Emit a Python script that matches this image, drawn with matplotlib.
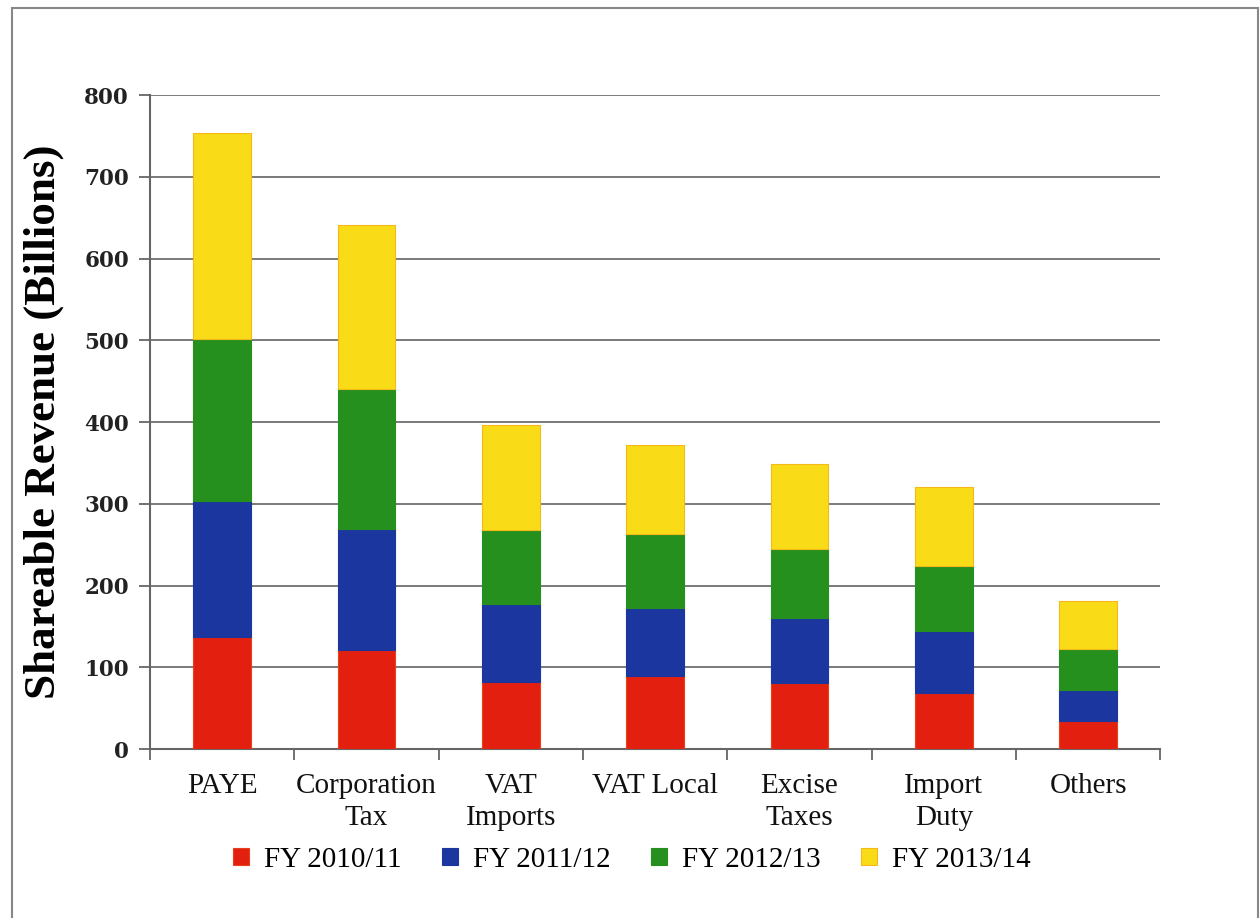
import numpy as np
import matplotlib.pyplot as plt
from matplotlib.patches import Rectangle

# values (billions)
categories = ['PAYE', 'Corporation\nTax', 'VAT\nImports', 'VAT Local',
              'Excise\nTaxes', 'Import\nDuty', 'Others']
fy_2010 = [137, 121, 82, 90, 81, 68, 34]
fy_2011 = [166, 148, 95, 82, 79, 76, 38]
fy_2012 = [199, 171, 91, 91, 85, 80, 50]
fy_2013 = [252, 201, 129, 109, 104, 96, 59]
series_names = ['FY 2010/11', 'FY 2011/12', 'FY 2012/13', 'FY 2013/14']
yticks = [0, 100, 200, 300, 400, 500, 600, 700, 800]

colors = ['#E3200F', '#1C36A0', '#25901E', '#F9DC17']
edges = ['#E8401A', '#1C36A0', '#25901E', '#F5B81A']

fig = plt.figure(figsize=(12.6, 9.18), dpi=100)
ax = fig.add_axes([0.119, 0.184, 0.802, 0.7125])

x = np.arange(len(categories))
bottom = np.zeros(len(categories))
for vals, name, c, ec in zip([fy_2010, fy_2011, fy_2012, fy_2013],
                             series_names, colors, edges):
    ax.bar(x, vals, width=0.4, bottom=bottom, color=c, edgecolor=ec,
           linewidth=0.8, label=name, zorder=3)
    bottom += np.array(vals)

ax.set_xlim(-0.5, 6.5)
ax.set_ylim(0, 800)
ax.set_yticks(yticks)
ax.set_yticklabels([str(t) for t in yticks], family='DejaVu Serif',
                   fontsize=15.5, fontweight='bold', color='#222222')
ax.yaxis.grid(True, color='#7a7a7a', linewidth=1.4, zorder=0)
ax.tick_params(axis='y', length=8, width=1.3, color='#666666', pad=7)

ax.set_xticks(x)
ax.set_xticklabels(categories, family='Liberation Serif', fontsize=21,
                   linespacing=1.3, color='#111111')
ax.set_xticks(np.arange(-0.5, 7, 1), minor=True)
ax.tick_params(axis='x', which='major', length=0, pad=17)
ax.tick_params(axis='x', which='minor', length=8, width=1.3, color='#666666')

for s in ['top', 'right']:
    ax.spines[s].set_visible(False)
for s in ['left', 'bottom']:
    ax.spines[s].set_color('#666666')
    ax.spines[s].set_linewidth(1.5)

ax.set_ylabel('Shareable Revenue (Billions)', family='Liberation Serif',
              fontsize=32.5, fontweight='bold')
ax.yaxis.set_label_coords(-0.085, 0.5)

fig.legend(loc='center', bbox_to_anchor=(632 / 1260, 1 - 860 / 918), ncol=4,
           frameon=False, handlelength=0.55, handleheight=0.55,
           handletextpad=0.5, columnspacing=1.4,
           prop={'family': 'Liberation Serif', 'size': 21})

fig.patches.append(Rectangle((12 / 1260, -0.02), 1246 / 1260, 1.02 - 8 / 918,
                             transform=fig.transFigure, fill=False,
                             edgecolor='#888888', linewidth=1.5))

fig.savefig('out.png', dpi=100)
